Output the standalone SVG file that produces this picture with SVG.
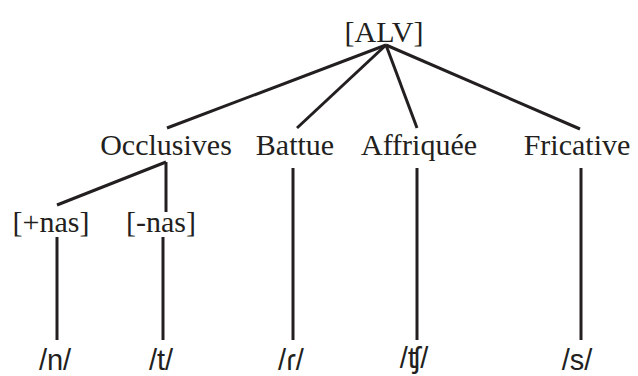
<svg xmlns="http://www.w3.org/2000/svg" width="638" height="376" viewBox="0 0 638 376">
<style>
.s{font-family:"Liberation Serif","Times New Roman",serif;font-size:30px;fill:#231f20;text-anchor:middle}
.p{font-family:"Liberation Sans","DejaVu Sans",sans-serif;font-size:29px;fill:#231f20;text-anchor:middle}
.e line{stroke:#231f20;stroke-width:3;fill:none}
</style>
<rect width="638" height="376" fill="#fff"/>
<g class="e" id="connectors">
<line x1="386" y1="45" x2="167" y2="128"/>
<line x1="386" y1="45" x2="297" y2="128"/>
<line x1="386" y1="45" x2="417" y2="128"/>
<line x1="386" y1="45" x2="580" y2="129"/>
<line x1="166" y1="162" x2="57" y2="205"/>
<line x1="166" y1="162" x2="166" y2="212"/>
<line x1="293" y1="168" x2="293" y2="340"/>
<line x1="417" y1="168" x2="417" y2="340"/>
<line x1="581" y1="168" x2="581" y2="340"/>
<line x1="57" y1="237" x2="57" y2="340"/>
<line x1="163" y1="237" x2="163" y2="340"/>
</g>
<g id="alv"><text class="s" x="384" y="42">[ALV]</text></g>
<g id="occlusives"><text class="s" x="166" y="155">Occlusives</text></g>
<g id="battue"><text class="s" x="295" y="155">Battue</text></g>
<g id="affriquee"><text class="s" x="419" y="155">Affriquée</text></g>
<g id="fricative"><text class="s" x="577" y="155">Fricative</text></g>
<g id="plusnas"><text class="s" x="51" y="232">[+nas]</text></g>
<g id="minusnas"><text class="s" x="161" y="232">[-nas]</text></g>
<g id="n"><text class="p" x="55" y="370">/n/</text></g>
<g id="t"><text class="p" x="161" y="370">/t/</text></g>
<g id="r"><text class="p" x="291" y="370">/ɾ/</text></g>
<g id="tsh"><text class="p" x="414" y="368">/ʧ/</text></g>
<g id="s"><text class="p" x="577" y="370">/s/</text></g>
</svg>
